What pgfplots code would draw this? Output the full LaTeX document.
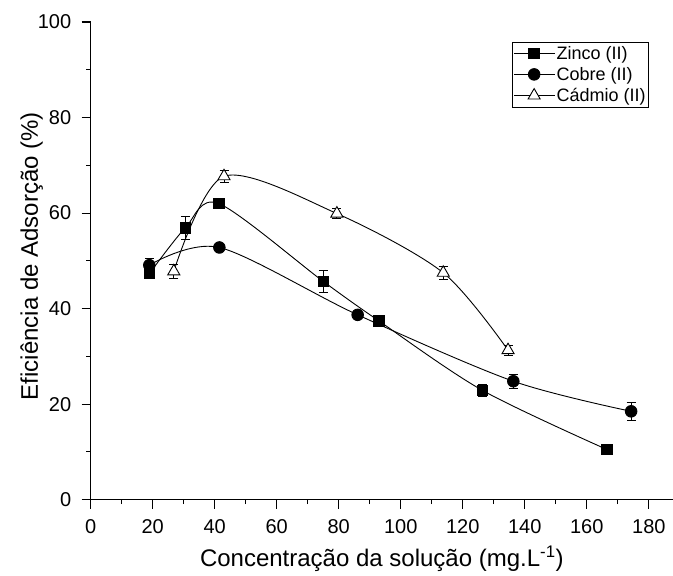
\documentclass[border=0pt]{standalone}
\usepackage{fontspec}
\setmainfont{Liberation Sans}
\usepackage{pgfplots}
\pgfplotsset{compat=1.18}

\begin{document}
\begin{tikzpicture}
% fixed page frame around the axis box
\useasboundingbox (-90.7pt,-76.3pt) rectangle (582.3pt,499.7pt);
\begin{axis}[
  scale only axis,
  width=582.3pt, height=477.7pt,
  xmin=0, xmax=187.8, ymin=0, ymax=100,
  axis x line=bottom, axis y line=left,
  axis line style={-, line width=1.3pt},
  xtick={0,20,...,180}, ytick={0,20,...,100},
  minor x tick num=1, minor y tick num=1,
  tick align=outside,
  major tick length=9pt, minor tick length=4.5pt,
  every tick/.style={black, line width=1.1pt},
  /pgf/number format/assume math mode=true,
  tick label style={font=\fontsize{20}{22}\selectfont},
  xticklabel style={yshift=-7pt},
  yticklabel style={xshift=-7pt},
  label style={font=\fontsize{24}{28}\selectfont},
  xlabel={Concentração da solução (mg.L\textsuperscript{-1})},
  ylabel={Eficiência de Adsorção (\%)},
  xlabel style={at={(axis description cs:0.5,-0.139)}, anchor=base},
  ylabel style={at={(axis description cs:-0.0905,0.51)}, anchor=base},
  clip=false,
  legend style={
    at={(0.9588,0.9588)}, anchor=north east,
    font=\fontsize{18}{21}\selectfont,
    draw=black, line width=0.8pt,
    inner xsep=1pt, inner ysep=2pt, row sep=2.5pt,
  },
  legend cell align=left,
  legend image code/.code={
    \draw[mark repeat=2, mark phase=2, #1]
      plot coordinates {(0pt,0pt) (20pt,0pt) (40pt,0pt)};
  },
  error bars/y dir=both, error bars/y explicit,
  error bars/error bar style={black, line width=0.8pt, solid},
  error bars/error mark options={rotate=90, black, mark size=4.5pt, line width=0.8pt},
]

% Zinco (II)
\addplot[black, line width=0.9pt, smooth, mark=square*, mark size=5.2pt,
  mark options={fill=black}]
  coordinates {
    (18.9,47.3) +- (0,0.8)
    (30.5,56.9) +- (0,2.5)
    (41.3,62.0) +- (0,0.5)
    (75.0,45.7) +- (0,2.3)
    (93.0,37.4) +- (0,0.5)
    (126.3,22.9) +- (0,1.2)
    (166.5,10.5) +- (0,0.6)
  };
\addlegendentry{Zinco (II)}

% Cobre (II)
\addplot[black, line width=0.9pt, smooth, mark=*, mark size=5.8pt,
  mark options={fill=black}]
  coordinates {
    (18.9,49.1) +- (0,1.5)
    (41.5,52.8) +- (0,0.6)
    (86.1,38.7) +- (0,0.6)
    (136.3,24.8) +- (0,1.5)
    (174.3,18.5) +- (0,1.8)
  };
\addlegendentry{Cobre (II)}

% Cádmio (II)
\addplot[black, line width=0.9pt, smooth, mark=triangle*, mark size=7pt,
  mark options={fill=white}]
  coordinates {
    (26.8,47.8) +- (0,1.5)
    (43.0,67.7) +- (0,1.3)
    (79.4,59.9) +- (0,1.0)
    (113.7,47.5) +- (0,1.3)
    (134.6,31.3) +- (0,1.0)
  };
\addlegendentry{Cádmio (II)}

\end{axis}
\end{tikzpicture}
\end{document}
